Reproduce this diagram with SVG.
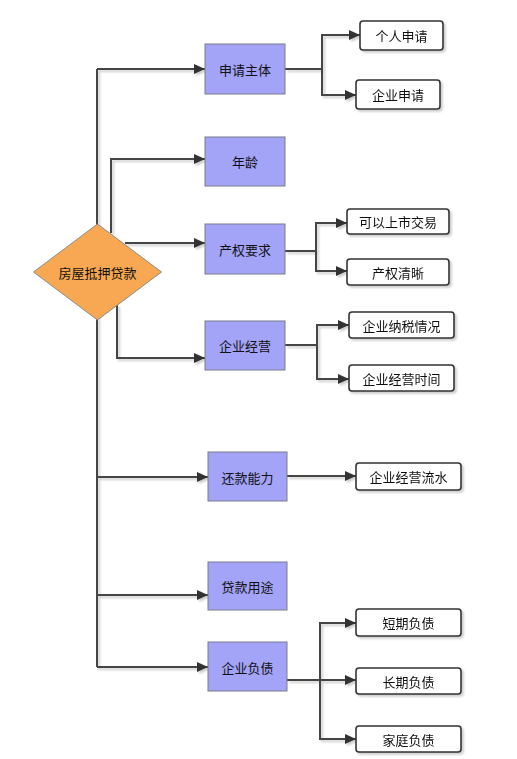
<svg xmlns="http://www.w3.org/2000/svg" width="517" height="759" viewBox="0 0 517 759">
<defs>
<style>
text{font-family:"Noto Sans CJK SC","Liberation Sans",sans-serif;font-size:13px;fill:#111;text-anchor:middle;dominant-baseline:central}
.main{fill:#a3a3f8;stroke:#7a7a8a;stroke-width:1}
.leaf{fill:#fff;stroke:#333;stroke-width:1.6}
.dia{fill:#f8a852;stroke:#8a8a8a;stroke-width:1}
.c{fill:none;stroke:#444;stroke-width:2}
.a{marker-end:url(#arr)}
</style>
<marker id="arr" markerUnits="userSpaceOnUse" markerWidth="12" markerHeight="10" refX="11" refY="5" orient="auto">
<path d="M0,0 L11,5 L0,10 Z" fill="#333"/>
</marker>
<filter id="sh" x="-10%" y="-10%" width="130%" height="130%">
<feDropShadow dx="2" dy="2" stdDeviation="0.8" flood-color="#000" flood-opacity="0.2"/>
</filter>
</defs>
<rect width="517" height="759" fill="#fff"/>
<g id="connectors" filter="url(#sh)">
<path class="c" d="M97,667 V69"/>
<path class="c a" d="M97,69 H205"/>
<path class="c a" d="M111,233 V159 H205"/>
<path class="c a" d="M125,243 H205"/>
<path class="c a" d="M117,305 V358 H205"/>
<path class="c a" d="M97,477 H208"/>
<path class="c a" d="M97,595 H208"/>
<path class="c a" d="M97,667 H208"/>
<path class="c" d="M285,69 H322"/>
<path class="c a" d="M322,69 V35 H360"/>
<path class="c a" d="M322,69 V95 H356"/>
<path class="c" d="M285,251 H316"/>
<path class="c a" d="M316,251 V223 H347"/>
<path class="c a" d="M316,251 V271 H347"/>
<path class="c" d="M285,345 H317"/>
<path class="c a" d="M317,345 V325 H349"/>
<path class="c a" d="M317,345 V379 H349"/>
<path class="c a" d="M287,476 H356"/>
<path class="c" d="M287,680 H320"/>
<path class="c a" d="M320,680 V623 H356"/>
<path class="c a" d="M320,680 V739 H356"/>
<path class="c a" d="M320,680 H356"/>
</g>
<g id="n-root"><polygon class="dia" points="97.5,224 161.5,272 97.5,320 33.5,272"/><text x="97.5" y="272">房屋抵押贷款</text></g>
<g id="n-sqzt"><rect class="main" x="205" y="44" width="80" height="50"/><text x="245" y="69">申请主体</text></g>
<g id="n-nl"><rect class="main" x="205" y="137" width="80" height="49"/><text x="245" y="161">年龄</text></g>
<g id="n-cqyq"><rect class="main" x="205" y="224" width="80" height="50"/><text x="245" y="249">产权要求</text></g>
<g id="n-qyjy"><rect class="main" x="205" y="321" width="80" height="49"/><text x="245" y="345">企业经营</text></g>
<g id="n-hknl"><rect class="main" x="208" y="452" width="79" height="49"/><text x="247.5" y="477">还款能力</text></g>
<g id="n-dkyt"><rect class="main" x="208" y="562" width="79" height="48"/><text x="247.5" y="586">贷款用途</text></g>
<g id="n-qyfz"><rect class="main" x="208" y="642" width="79" height="49"/><text x="247.5" y="667">企业负债</text></g>
<g filter="url(#sh)">
<g id="n-grsq"><rect class="leaf" x="360" y="21" width="83" height="29" rx="3"/><text x="401.5" y="35.5">个人申请</text></g>
<g id="n-qysq"><rect class="leaf" x="356" y="80" width="84" height="29" rx="3"/><text x="398" y="94.5">企业申请</text></g>
<g id="n-kyss"><rect class="leaf" x="347" y="209" width="102" height="25" rx="3"/><text x="398" y="221.5">可以上市交易</text></g>
<g id="n-cqqx"><rect class="leaf" x="347" y="259" width="102" height="26" rx="3"/><text x="398" y="272">产权清晰</text></g>
<g id="n-qyns"><rect class="leaf" x="349" y="312" width="105" height="26" rx="3"/><text x="401.5" y="325">企业纳税情况</text></g>
<g id="n-qysj"><rect class="leaf" x="349" y="365" width="105" height="26" rx="3"/><text x="401.5" y="378">企业经营时间</text></g>
<g id="n-qyls"><rect class="leaf" x="356" y="463" width="105" height="27" rx="3"/><text x="408.5" y="476.5">企业经营流水</text></g>
<g id="n-dqfz"><rect class="leaf" x="356" y="609" width="105" height="27" rx="3"/><text x="408.5" y="622.5">短期负债</text></g>
<g id="n-cqfz"><rect class="leaf" x="356" y="668" width="105" height="26" rx="3"/><text x="408.5" y="681">长期负债</text></g>
<g id="n-jtfz"><rect class="leaf" x="356" y="726" width="105" height="26" rx="3"/><text x="408.5" y="739">家庭负债</text></g>
</g>
</svg>
